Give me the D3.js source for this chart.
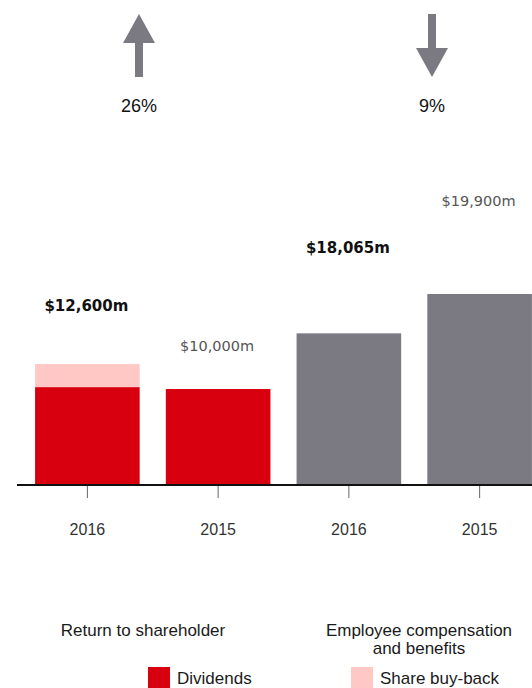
<!DOCTYPE html>
<html>
<head>
<meta charset="utf-8">
<script src="https://cdn.jsdelivr.net/npm/d3@7"></script>
<style>
  body { margin: 0; background: #fff; }
  svg { display: block; }
</style>
</head>
<body>
<div id="chart"></div>
<script>
// data
const barKeys = ["rs2016", "rs2015", "ec2016", "ec2015"]
const years = ["2016", "2015", "2016", "2015"]
const dividends = [10200, 10000]
const buyBack = [2400, 0]
const employeeComp = [15800, 19900]
const valueLabels = ["$12,600m", "$10,000m", "$18,065m", "$19,900m"]
const groupNames = [["Return to shareholder"], ["Employee compensation", "and benefits"]]
const changes = ["26%", "9%"]
const changeDir = ["up", "down"]
const legendNames = ["Dividends", "Share buy-back"]

var width = 532, height = 688
var red = "#d8000f", pink = "#ffc8c5", grey = "#7b7a83"

var svg = d3.select("#chart").append("svg")
  .attr("width", width)
  .attr("height", height)

// scales
var x = d3.scaleBand()
  .domain(barKeys)
  .range([22, 545])
  .paddingInner(0.2)
  .paddingOuter(0.1)

var y = d3.scaleLinear()
  .domain([0, 19900])
  .range([485, 294])

// build stacked segments
var segs = []
dividends.forEach(function(v, i){
  segs.push({key: barKeys[i], y0: 0, y1: v, color: red})
  if (buyBack[i] > 0) segs.push({key: barKeys[i], y0: v, y1: v + buyBack[i], color: pink})
})
employeeComp.forEach(function(v, i){
  segs.push({key: barKeys[i + 2], y0: 0, y1: v, color: grey})
})

svg.selectAll("rect.seg")
  .data(segs)
  .enter()
  .append("rect")
    .attr("class", "seg")
    .attr("x", d => x(d.key))
    .attr("width", x.bandwidth())
    .attr("y", d => y(d.y1))
    .attr("height", d => y(d.y0) - y(d.y1))
    .attr("fill", d => d.color)

// totals for label placement
var totals = [dividends[0] + buyBack[0], dividends[1] + buyBack[1], employeeComp[0], employeeComp[1]]
var labelLift = [53, 38, 80, 88]

svg.selectAll("text.val")
  .data(valueLabels)
  .enter()
  .append("text")
    .attr("x", (d, i) => x(barKeys[i]) + x.bandwidth() / 2 - 1)
    .attr("y", (d, i) => y(totals[i]) - labelLift[i])
    .attr("text-anchor", "middle")
    .style("font-family", "DejaVu Sans")
    .style("font-size", (d, i) => years[i] == "2016" ? "15px" : "14.5px")
    .style("font-weight", (d, i) => years[i] == "2016" ? 700 : 400)
    .style("fill", (d, i) => years[i] == "2016" ? "#111" : "#555")
    .text(d => d)

// axis line + ticks
var xAxis = d3.axisBottom(x).tickSize(13).tickFormat((d, i) => years[i])
var gx = svg.append("g")
  .attr("transform", "translate(0,485)")
  .call(xAxis)
gx.select(".domain").remove()
gx.selectAll(".tick line").attr("stroke", "#666").attr("y1", 1)
gx.selectAll(".tick text")
  .attr("y", 50)
  .attr("dy", null)
  .style("font-family", "Liberation Sans")
  .style("font-size", "16px")
  .style("fill", "#333")
svg.append("line")
  .attr("x1", 17).attr("x2", width)
  .attr("y1", 485).attr("y2", 485)
  .attr("stroke", "#111")
  .attr("stroke-width", 2)

// change arrows
var arrowX = [139, 432]
var upPath = "M0,0 L16,29 L4,29 L4,63 L-4,63 L-4,29 L-16,29 Z"
var downPath = "M-4,0 L4,0 L4,34 L16,34 L0,63 L-16,34 L-4,34 Z"
changes.forEach(function(c, i){
  svg.append("path")
    .attr("d", changeDir[i] == "up" ? upPath : downPath)
    .attr("transform", "translate(" + arrowX[i] + ",14)")
    .attr("fill", grey)
  svg.append("text")
    .attr("x", arrowX[i])
    .attr("y", 112)
    .attr("text-anchor", "middle")
    .style("font-family", "Liberation Sans")
    .style("font-size", "18px")
    .style("fill", "#111")
    .text(c)
})

// group titles
var groupX = [143, 419]
groupNames.forEach(function(lines, i){
  var t = svg.append("text")
    .attr("x", groupX[i])
    .attr("y", 636)
    .attr("text-anchor", "middle")
    .style("font-family", "Liberation Sans")
    .style("font-size", "17px")
    .style("fill", "#1a1a1a")
  lines.forEach(function(l, j){
    t.append("tspan").attr("x", groupX[i]).attr("dy", j == 0 ? 0 : 17.5).text(l)
  })
})

// legend
var legendX = [148, 351]
var legendColor = [red, pink]
legendNames.forEach(function(n, i){
  svg.append("rect")
    .attr("x", legendX[i]).attr("y", 667)
    .attr("width", 22).attr("height", 21)
    .attr("fill", legendColor[i])
  svg.append("text")
    .attr("x", legendX[i] + 29)
    .attr("y", 684)
    .style("font-family", "Liberation Sans")
    .style("font-size", "17px")
    .style("fill", "#1a1a1a")
    .text(n)
})
</script>
</body>
</html>
